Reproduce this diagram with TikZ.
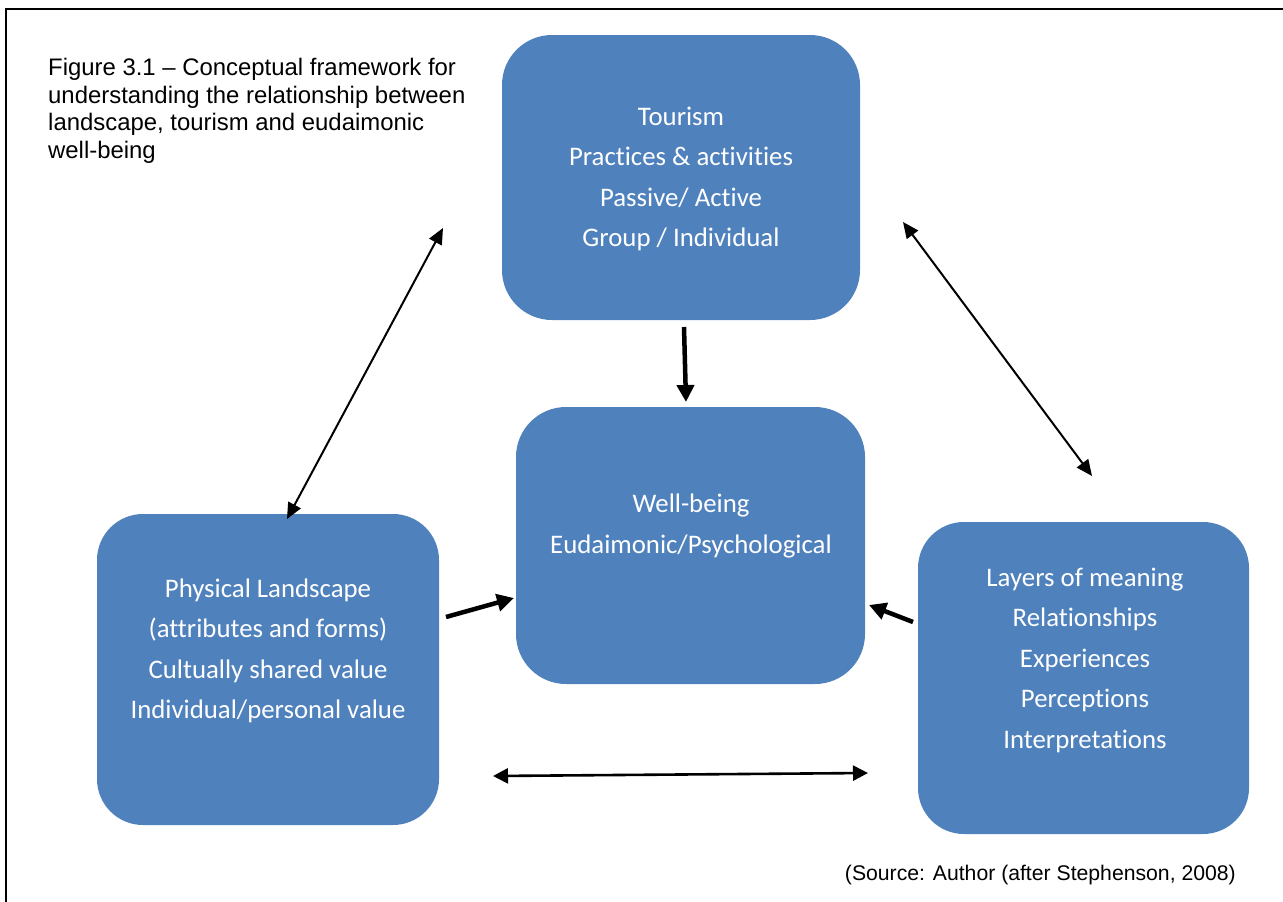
\documentclass[tikz,border=0pt]{standalone}
\usepackage{fontspec}
\setmainfont{Carlito}[Ligatures={NoCommon}]
\newfontfamily\arialfont{Liberation Sans}
\usetikzlibrary{arrows.meta}
\definecolor{boxblue}{HTML}{4F81BD}
\tikzset{
  x=1pt, y=-1pt,
  bluebox/.style={draw=none, fill=boxblue, rounded corners=50pt},
  boxtext/.style={text=white, align=center, font=\fontsize{26.8}{40.5}\selectfont},
  thinlink/.style={line width=2pt, {Triangle[length=16pt,width=14pt]}-{Triangle[length=16pt,width=14pt]}},
  flatlink/.style={line width=2.6pt, {Triangle[length=15pt,width=15pt]}-{Triangle[length=15pt,width=15pt]}},
  thicklink/.style={line width=4.5pt, -{Triangle[length=17pt,width=17pt]}},
}
\begin{document}
\begin{tikzpicture}
\useasboundingbox (0,0) rectangle (1283,902);
% page frame (left and top edges)
\draw[line width=2pt] (5.5,902) -- (5.5,9) -- (1283,9);

% caption and source
\node[anchor=north west, align=left, inner sep=0pt,
      font=\arialfont\fontsize{23.9}{27.6}\selectfont] (caption) at (48,58)
  {Figure 3.1 \textendash{} Conceptual framework for\\understanding the relationship between\\landscape, tourism and eudaimonic\\well-being};
\node[anchor=base east, inner sep=0pt, font=\arialfont\fontsize{21.2}{24}\selectfont] (source) at (1236,880)
  {(Source: Author (after Stephenson, 2008)};

% boxes
\path[bluebox] (502,35) rectangle (860,320);
\path[bluebox] (516,407) rectangle (865,684);
\path[bluebox, rounded corners=46pt] (97,514) rectangle (439,825);
\path[bluebox, rounded corners=46pt] (918,522) rectangle (1249,834);

\node[boxtext] (tourism) at (681,179) {Tourism\\Practices \& activities\\Passive/ Active\\Group / Individual};
\node[boxtext] (wellbeing) at (691,526) {Well-being\\Eudaimonic/Psychological};
\node[boxtext] (landscape) at (268,651) {Physical Landscape\\(attributes and forms)\\Cultually shared value\\Individual/personal value};
\node[boxtext] (layers) at (1085,660) {Layers of meaning\\Relationships\\Experiences\\Perceptions\\Interpretations};

% connector ends
\coordinate (tl1) at (287,519);
\coordinate (tl2) at (443,228);
\coordinate (tr1) at (903,222);
\coordinate (tr2) at (1092,476);
\coordinate (tw1) at (684,327);
\coordinate (tw2) at (686,402);
\coordinate (lw1) at (446,617);
\coordinate (lw2) at (514,598);
\coordinate (rw1) at (913,622);
\coordinate (rw2) at (869,605);
\coordinate (bl) at (493,776);
\coordinate (br) at (868,773);

\draw[thinlink] (tl1) -- (tl2);
\draw[thinlink] (tr1) -- (tr2);
\draw[thicklink] (tw1) -- (tw2);
\draw[thicklink] (lw1) -- (lw2);
\draw[thicklink] (rw1) -- (rw2);
\draw[flatlink] (bl) -- (br);
\end{tikzpicture}
\end{document}
